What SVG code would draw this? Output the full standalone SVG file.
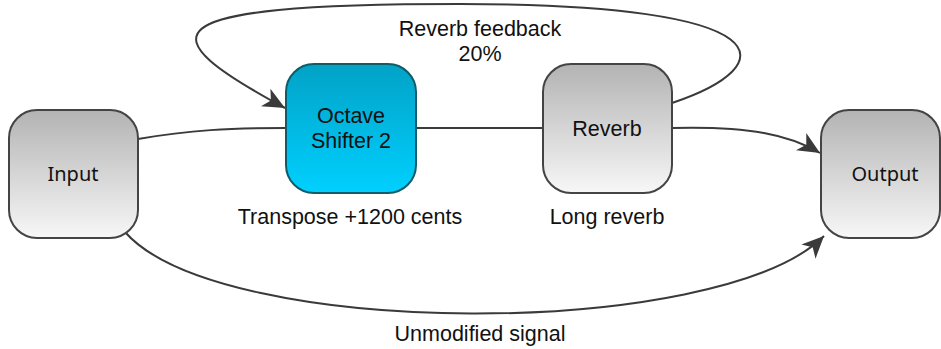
<svg xmlns="http://www.w3.org/2000/svg" width="941" height="349" viewBox="0 0 941 349">
  <defs>
    <linearGradient id="grayFill" x1="0" y1="0" x2="0" y2="1">
      <stop offset="0" stop-color="#b3b3b3"/>
      <stop offset="1" stop-color="#f7f7f7"/>
    </linearGradient>
    <linearGradient id="blueFill" x1="0" y1="0" x2="0" y2="1">
      <stop offset="0" stop-color="#02a2c6"/>
      <stop offset="1" stop-color="#00d0ff"/>
    </linearGradient>
    <marker id="arrow" markerUnits="userSpaceOnUse" markerWidth="24" markerHeight="20" refX="22" refY="10" orient="auto">
      <path d="M0,0 L22,10 L0,20 L6,10 Z" fill="#3a3a3a"/>
    </marker>
    <style>
      .gray { fill: url(#grayFill); stroke: #444; stroke-width: 2; }
      .blue { fill: url(#blueFill); stroke: #0e5d68; stroke-width: 2; }
      .edge { fill: none; stroke: #3a3a3a; stroke-width: 2; }
      .lbl { font-family: "Liberation Sans", Arial, sans-serif; font-size: 21.5px; fill: #111; text-anchor: middle; }
      .io { font-family: "Noto Sans", "Liberation Sans", sans-serif; font-size: 20px; fill: #111; text-anchor: middle; }
    </style>
  </defs>

  <!-- connectors -->
  <g id="connectors">
    <path class="edge" d="M138,139 C190,130 230,128 286,128"/>
    <path class="edge" d="M416,128 L543,128"/>
    <path class="edge" d="M672,128 C750,126 790,135 820,153" marker-end="url(#arrow)"/>
    <path class="edge" d="M672,103 C785,65 785,4 460,4 C140,4 150,35 285,108" marker-end="url(#arrow)"/>
    <path class="edge" d="M125,232 C220,340 720,340 824,236" marker-end="url(#arrow)"/>
    <text class="lbl" x="480" y="36">Reverb feedback</text>
    <text class="lbl" x="480" y="61">20%</text>
    <text class="lbl" x="480" y="341">Unmodified signal</text>
  </g>

  <g id="input">
    <rect class="gray" x="9" y="110" width="129" height="128" rx="28"/>
    <text class="io" x="73" y="181">Input</text>
  </g>

  <g id="octave-shifter">
    <rect class="blue" x="286" y="64" width="130" height="129" rx="28"/>
    <text class="lbl" x="351" y="123">Octave</text>
    <text class="lbl" x="351" y="148">Shifter 2</text>
    <text class="lbl" x="350" y="224">Transpose +1200 cents</text>
  </g>

  <g id="reverb">
    <rect class="gray" x="543" y="64" width="129" height="129" rx="28"/>
    <text class="lbl" x="607" y="136">Reverb</text>
    <text class="lbl" x="607" y="224">Long reverb</text>
  </g>

  <g id="output">
    <rect class="gray" x="821" y="110" width="119" height="128" rx="28"/>
    <text class="io" x="885" y="181">Output</text>
  </g>
</svg>
